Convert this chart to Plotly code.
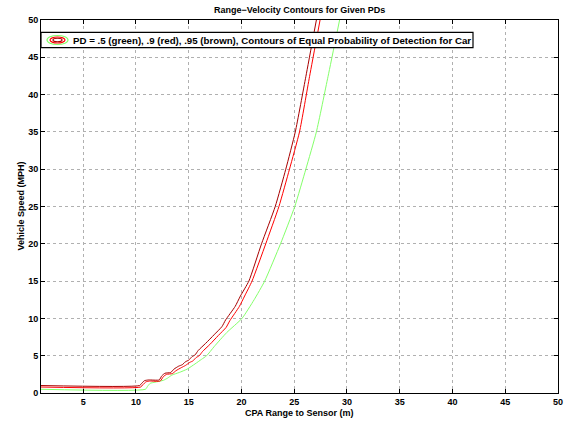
import plotly.graph_objects as go

# ---- data ----
brown_x = [1, 10.35, 10.55, 10.8, 11.2, 12.2, 12.45, 12.75, 13.3, 13.6, 14.05, 14.4, 14.7, 15.0, 15.3, 15.6,
           15.9, 16.6, 17.4, 18.15, 18.5, 19.4, 19.9, 20.7, 21.9, 23.2, 24.2, 25.1, 26.1, 27.1]
brown_y = [1.0, 1.0, 1.3, 1.65, 1.75, 1.75, 2.3, 2.65, 2.75, 3.2, 3.6, 3.8, 4.2, 4.4, 4.85, 5.1,
           5.7, 6.65, 7.8, 8.9, 9.8, 11.6, 13.0, 15, 20, 25, 30, 35, 42.4, 50]

red_x = [1, 10.45, 10.65, 10.95, 11.3, 12.3, 12.6, 12.9, 13.45, 13.8, 14.3, 14.7, 15.1, 15.4, 15.7, 16.0,
         16.3, 17.0, 17.8, 18.55, 18.9, 19.8, 20.3, 21.0, 22.3, 23.55, 24.55, 25.5, 26.45, 27.45]
red_y = [0.8, 0.8, 1.1, 1.5, 1.6, 1.6, 2.2, 2.5, 2.6, 3.0, 3.4, 3.7, 4.1, 4.3, 4.75, 5.0,
         5.55, 6.5, 7.7, 8.8, 9.7, 11.6, 13.0, 15, 20, 25, 30, 35, 42.4, 50]

green_x = [1, 10.9, 11.1, 11.35, 11.8, 12.6, 13.0, 13.4, 14.1, 14.85, 15.6, 16.2, 16.7, 17.4, 18.6,
           20.05, 21.2, 22.2, 23.7, 25.05, 26.1, 27.1, 28.2, 29.3]
green_y = [0.5, 0.5, 0.9, 1.3, 1.45, 1.7, 2.0, 2.4, 2.75, 3.2, 3.9, 4.5, 5.0, 6.2, 8.1,
           10, 12.5, 15, 20, 25, 30, 35, 42.4, 50]

x_ticks = [5, 10, 15, 20, 25, 30, 35, 40, 45, 50]
y_ticks = [0, 5, 10, 15, 20, 25, 30, 35, 40, 45, 50]

title = "Range\u2212Velocity Contours for Given PDs"
xlabel = "CPA Range to Sensor (m)"
ylabel = "Vehicle Speed (MPH)"
legend_text = "PD = .5 (green), .9 (red), .95 (brown), Contours of Equal Probability of Detection for Car"

C_BROWN = "#a80000"
C_RED = "#ff0000"
C_GREEN = "#84ff6a"

W, H = 576, 424
L, R, T, B = 41, 18, 20, 31
PW, PH = W - L - R, H - T - B
FONT = "Liberation Sans, Arial, Helvetica, sans-serif"


def px(x):
    return (x - L) / PW


def py(y):
    return (H - B - y) / PH


fig = go.Figure()
for xs, ys, c in [(green_x, green_y, C_GREEN), (red_x, red_y, C_RED), (brown_x, brown_y, C_BROWN)]:
    fig.add_trace(go.Scatter(x=xs, y=ys, mode="lines",
                             line=dict(color=c, width=1, shape="spline", smoothing=0.5),
                             showlegend=False, hoverinfo="skip"))

axis_common = dict(
    showgrid=True, gridcolor="#b0b0b0", griddash="dot", gridwidth=1,
    showline=True, linecolor="black", linewidth=1, mirror="allticks",
    ticks="inside", ticklen=4, tickcolor="black",
    tickfont=dict(family=FONT, size=9, color="black", weight="bold"),
    zeroline=False,
)
fig.update_xaxes(range=[1, 50], tickvals=x_ticks, **axis_common)
fig.update_yaxes(range=[0, 50], tickvals=y_ticks, **axis_common)

shapes = []
# legend box
shapes.append(dict(type="rect", xref="paper", yref="paper", x0=px(41), x1=px(473), y0=py(47.7), y1=py(32.3),
                   line=dict(color="black", width=1.2), fillcolor="white", layer="above"))
# contour icon
for (w, h, c) in [(21, 9, C_GREEN), (15, 6, C_RED), (9, 3.5, C_BROWN)]:
    cx, cy = 57.5, 40
    shapes.append(dict(type="circle", xref="paper", yref="paper",
                       x0=px(cx - w / 2), x1=px(cx + w / 2), y0=py(cy + h / 2), y1=py(cy - h / 2),
                       line=dict(color=c, width=1.2), layer="above"))

annotations = [
    dict(text=f"<b>{legend_text}</b>", xref="paper", yref="paper", x=px(71), y=py(40.5),
         xanchor="left", yanchor="middle", showarrow=False,
         font=dict(family=FONT, size=9.7, color="black")),
    dict(text=f"<b>{title}</b>", xref="paper", yref="paper", x=0.5, y=py(10),
         xanchor="center", yanchor="middle", showarrow=False,
         font=dict(family=FONT, size=9, color="black")),
    dict(text=f"<b>{xlabel}</b>", xref="paper", yref="paper", x=0.5, y=py(413),
         xanchor="center", yanchor="middle", showarrow=False,
         font=dict(family=FONT, size=9, color="black")),
    dict(text=f"<b>{ylabel}</b>", xref="paper", yref="paper", x=px(20), y=0.5,
         xanchor="center", yanchor="middle", showarrow=False, textangle=-90,
         font=dict(family=FONT, size=9, color="black")),
]

fig.update_layout(
    width=W, height=H, margin=dict(l=L, r=R, t=T, b=B, pad=0),
    paper_bgcolor="white", plot_bgcolor="white",
    shapes=shapes, annotations=annotations, showlegend=False,
)

fig.write_html("out.html")
